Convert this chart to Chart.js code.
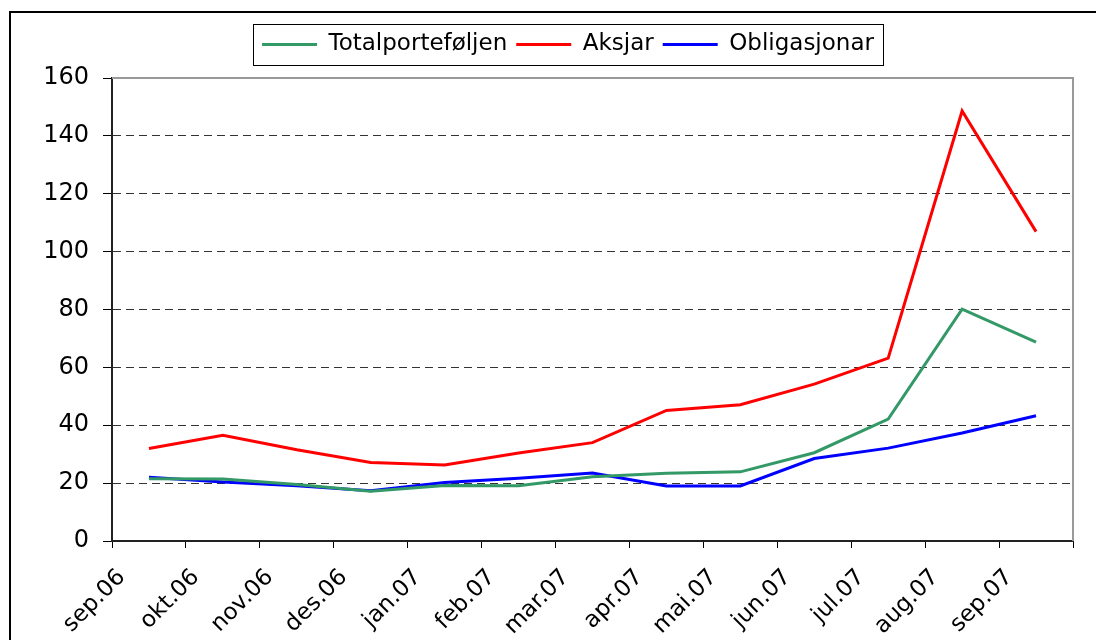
<!DOCTYPE html>
<html lang="no">
  <head>
    <meta charset="UTF-8" />
    <title>Avkastning</title>
    <script src="https://cdn.jsdelivr.net/npm/chart.js"></script>
    <style>
      body {
        margin: 0;
        width: 1096px;
        height: 640px;
        overflow: hidden;
        background: #fff;
        font-family: "DejaVu Sans", sans-serif;
      }
      .frame {
        position: absolute;
        left: 9px;
        top: 11px;
        width: 1200px;
        height: 700px;
        border-left: 2px solid #000;
        border-top: 2px solid #000;
      }
      .chart-box {
        position: absolute;
        left: 0;
        top: 0;
        width: 1096px;
        height: 640px;
      }
    </style>
  </head>
  <body>
    <div class="frame"></div>
    <div class="chart-box">
      <canvas id="lineChart" width="1096" height="640"></canvas>
    </div>

    <script>
      const months = ["sep.06", "okt.06", "nov.06", "des.06", "jan.07", "feb.07", "mar.07",
        "apr.07", "mai.07", "jun.07", "jul.07", "aug.07", "sep.07"];
      const yTicks = [0, 20, 40, 60, 80, 100, 120, 140, 160];

      const totalportefoljen = [21.5, 21.4, 19.5, 17.2, 19.2, 19.1, 22.2, 23.4, 23.9, 30.5, 42.1, 80.1, 68.7];
      const aksjar = [32.0, 36.5, 31.5, 27.1, 26.3, 30.4, 34.0, 45.1, 47.1, 54.2, 63.2, 148.6, 106.9];
      const obligasjonar = [22.0, 20.4, 19.1, 17.4, 20.2, 21.7, 23.5, 19.0, 19.0, 28.5, 32.1, 37.3, 43.3];

      // points sit in the middle of each month, labels on the month ticks
      const toPoints = (arr) => arr.map((v, i) => ({ x: i + 0.5, y: v }));

      const font = { family: "'DejaVu Sans', sans-serif", size: 23 };

      // legend: extra space below, nudged right, framed
      const legendBox = {
        id: "legendBox",
        beforeInit(chart) {
          const fit = chart.legend.fit;
          chart.legend.fit = function () {
            fit.bind(chart.legend)();
            this.height += 12;
          };
        },
        afterLayout(chart) {
          chart.legend.left += 11;
          chart.legend.right += 11;
        },
        afterDraw(chart) {
          const lg = chart.legend;
          const boxes = lg.legendHitBoxes;
          if (!boxes || !boxes.length) return;
          const left = Math.min(...boxes.map((b) => b.left)) - 9;
          const right = Math.max(...boxes.map((b) => b.left + b.width)) + 9;
          const c = chart.ctx;
          c.save();
          c.strokeStyle = "#000";
          c.lineWidth = 1;
          c.strokeRect(Math.round(left) + 0.5, lg.top + 0.5, Math.round(right - left), 41);
          c.restore();
        },
      };

      // grey plot-area border on top and right
      const plotBorder = {
        id: "plotBorder",
        beforeDatasetsDraw(chart) {
          const { top, right, left, bottom } = chart.chartArea;
          const c = chart.ctx;
          c.save();
          c.strokeStyle = "#999";
          c.lineWidth = 2;
          c.beginPath();
          c.moveTo(left, top);
          c.lineTo(right, top);
          c.lineTo(right, bottom);
          c.stroke();
          c.restore();
        },
      };

      const ctx = document.getElementById("lineChart").getContext("2d");
      new Chart(ctx, {
        type: "line",
        data: {
          datasets: [
            {
              label: "Totalporteføljen",
              data: toPoints(totalportefoljen),
              borderColor: "#339966",
              backgroundColor: "#339966",
            },
            {
              label: "Aksjar",
              data: toPoints(aksjar),
              borderColor: "#ff0000",
              backgroundColor: "#ff0000",
            },
            {
              label: "Obligasjonar",
              data: toPoints(obligasjonar),
              borderColor: "#0000ff",
              backgroundColor: "#0000ff",
            },
          ],
        },
        options: {
          responsive: false,
          animation: false,
          devicePixelRatio: 1,
          layout: { padding: { top: 24, left: 41, right: 23, bottom: 0 } },
          elements: {
            line: { borderWidth: 3, tension: 0 },
            point: { radius: 0 },
          },
          plugins: {
            tooltip: { enabled: false },
            legend: {
              position: "top",
              labels: {
                font: font,
                color: "#000",
                boxWidth: 55,
                boxHeight: 3,
                padding: 9,
                generateLabels: (chart) =>
                  Chart.defaults.plugins.legend.labels
                    .generateLabels(chart)
                    .map((item) => ({ ...item, lineWidth: 0 })),
              },
            },
          },
          scales: {
            x: {
              type: "linear",
              min: 0,
              max: 13,
              afterFit: (scale) => {
                scale.height = 99;
                scale.paddingLeft = 0;
                scale.paddingRight = 0;
              },
              afterBuildTicks: (scale) => {
                scale.ticks = months.map((m, i) => ({ value: i })).concat([{ value: 13 }]);
              },
              ticks: {
                font: font,
                color: "#000",
                autoSkip: false,
                minRotation: 45,
                maxRotation: 45,
                labelOffset: 10,
                padding: 16,
                callback: (v) => months[v] ?? "",
              },
              grid: {
                drawOnChartArea: false,
                drawTicks: true,
                tickLength: 7,
                tickColor: "#000",
              },
              border: { color: "#222", width: 2 },
            },
            y: {
              min: 0,
              max: 160,
              afterFit: (scale) => {
                scale.width = 71;
              },
              afterBuildTicks: (scale) => {
                scale.ticks = yTicks.map((v) => ({ value: v }));
              },
              ticks: {
                font: { family: font.family, size: 24 },
                color: "#000",
                padding: 14,
              },
              grid: {
                color: (c) =>
                  c.tick && (c.tick.value === 0 || c.tick.value === 160) ? "rgba(0,0,0,0)" : "#333",
                lineWidth: 1,
                tickLength: 9,
                tickColor: "#000",
              },
              border: { color: "#222", width: 2, dash: [8, 5] },
            },
          },
        },
        plugins: [legendBox, plotBorder],
      });
    </script>
  </body>
</html>
